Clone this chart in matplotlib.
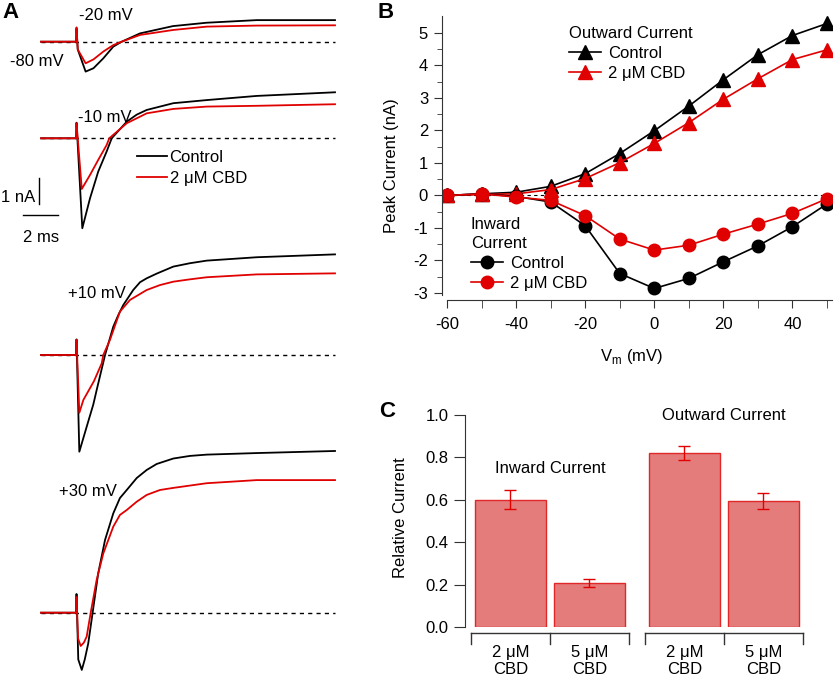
import numpy as np
import matplotlib.pyplot as plt

plt.rcParams['font.family'] = ['Liberation Sans', 'DejaVu Sans']
plt.rcParams['font.size'] = 12
plt.rcParams['axes.unicode_minus'] = False

W, H = 837, 680
RED = '#e00000'
DARK = '#333333'

# ---- panel A: current traces (time in ms, current in nA)
t_m20_ctrl = [-2, 0, 0.03, 0.1, 0.55, 1.0, 1.56, 2.13, 2.61, 3.66, 5.54, 7.47, 10.33, 14.8]
i_m20_ctrl = [0, 0, 0.5, -0.3, -1.15, -1.02, -0.64, -0.19, 0, 0.32, 0.6, 0.73, 0.83, 0.83]
t_m20_cbd = [-2, 0, 0.03, 0.1, 0.55, 1.0, 1.56, 2.13, 2.61, 3.66, 5.54, 7.47, 10.33, 14.8]
i_m20_cbd = [0, 0, 0.55, -0.3, -0.83, -0.68, -0.38, -0.13, 0, 0.26, 0.45, 0.58, 0.62, 0.63]

t_m10_ctrl = [-2, 0, 0.03, 0.36, 0.8, 1.27, 1.75, 2.04, 2.9, 3.47, 4.04, 5.56, 7.47, 10.33, 14.8]
i_m10_ctrl = [0, 0, 0.6, -3.46, -2.31, -1.28, -0.51, 0, 0.64, 0.91, 1.09, 1.35, 1.47, 1.63, 1.77]
t_m10_cbd = [-2, 0, 0.03, 0.33, 0.8, 1.27, 1.75, 1.9, 2.9, 4.04, 5.56, 7.47, 10.33, 14.8]
i_m10_cbd = [0, 0, 0.58, -1.95, -1.41, -0.83, -0.26, 0, 0.58, 0.96, 1.13, 1.22, 1.25, 1.31]

t_p10_ctrl = [-2, 0, 0.03, 0.19, 0.61, 0.99, 1.18, 1.66, 2.13, 2.42, 2.7, 3.27, 3.66, 4.04, 4.61,
              5.56, 6.51, 7.47, 8.8, 10.33, 14.8]
i_p10_ctrl = [0, 0, 0.6, -3.72, -2.76, -1.9, -1.35, 0, 1.09, 1.54, 1.92, 2.5, 2.8, 2.95, 3.13,
              3.4, 3.53, 3.63, 3.69, 3.76, 3.87]
t_p10_cbd = [-2, 0, 0.03, 0.19, 0.42, 1.03, 1.47, 1.56, 1.94, 2.51, 3.09, 4.04, 4.8, 5.56, 6.51,
             7.47, 10.33, 14.8]
i_p10_cbd = [0, 0, 0.58, -2.22, -1.73, -1.0, -0.32, 0, 0.58, 1.67, 2.12, 2.5, 2.69, 2.82, 2.91,
             2.99, 3.1, 3.14]

t_p30_ctrl = [-2, 0, 0.03, 0.13, 0.33, 0.5, 0.7, 0.95, 1.27, 1.66, 2.13, 2.51, 2.9, 3.47, 4.04,
              4.61, 5.56, 6.51, 7.47, 10.33, 14.8]
i_p30_ctrl = [0, 0, 0.72, -1.8, -2.2, -1.8, -1.18, 0, 1.52, 2.8, 3.82, 4.41, 4.72, 5.18, 5.49,
              5.72, 5.93, 6.03, 6.08, 6.14, 6.22]
t_p30_cbd = [-2, 0, 0.03, 0.12, 0.27, 0.45, 0.61, 0.84, 1.18, 1.56, 2.13, 2.51, 2.9, 3.47, 4.04,
             4.8, 5.56, 7.47, 10.33, 14.8]
i_p30_cbd = [0, 0, 0.6, -1.0, -1.28, -1.15, -0.92, 0, 1.26, 2.28, 3.31, 3.76, 3.95, 4.27, 4.53,
             4.72, 4.8, 4.98, 5.1, 5.1]

step_labels = ['-20 mV', '-10 mV', '+10 mV', '+30 mV']

# ---- panel B: I-V
vm = [-60, -50, -40, -30, -20, -10, 0, 10, 20, 30, 40, 50]
out_ctrl = [0, 0.05, 0.1, 0.28, 0.67, 1.29, 1.99, 2.75, 3.56, 4.33, 4.92, 5.29]
out_cbd = [0, 0.03, 0.05, 0.18, 0.52, 1.01, 1.6, 2.24, 2.96, 3.59, 4.18, 4.48]
in_ctrl = [0, 0.05, -0.03, -0.2, -0.93, -2.4, -2.86, -2.55, -2.04, -1.55, -0.96, -0.26]
in_cbd = [0, 0.05, -0.05, -0.15, -0.62, -1.34, -1.68, -1.53, -1.19, -0.88, -0.55, -0.1]

# ---- panel C: relative current
bar_labels = ['2 μM\nCBD', '5 μM\nCBD']
inward_rel = [0.60, 0.207]
inward_err = [0.045, 0.02]
outward_rel = [0.82, 0.595]
outward_err = [0.032, 0.038]


def fx(x):
    return x / W


def fy(y):
    return 1 - y / H


fig = plt.figure(figsize=(W / 100, H / 100), dpi=100)

# ================= A =================
MS_PX = 17.5   # px per ms
NA_PX = 26.0   # px per nA
T0_PX = 76     # x pixel of step onset
ax_a = fig.add_axes([0, 0, 340 / W, 1])
ax_a.set_xlim(-T0_PX / MS_PX, (340 - T0_PX) / MS_PX)
ax_a.set_ylim(0, H / NA_PX)
ax_a.axis('off')

base_px = [41.7, 138.3, 355, 612.7]
traces = [(t_m20_ctrl, i_m20_ctrl, t_m20_cbd, i_m20_cbd),
          (t_m10_ctrl, i_m10_ctrl, t_m10_cbd, i_m10_cbd),
          (t_p10_ctrl, i_p10_ctrl, t_p10_cbd, i_p10_cbd),
          (t_p30_ctrl, i_p30_ctrl, t_p30_cbd, i_p30_cbd)]
handles_a = None
for b, (tc, ic, tr, ir) in zip(base_px, traces):
    off = (H - b) / NA_PX
    ax_a.plot([tc[0], tc[-1]], [off, off], color='black', lw=1.0,
              dashes=(3, 3))
    l1, = ax_a.plot(tc, np.array(ic) + off, color='black', lw=1.3)
    l2, = ax_a.plot(tr, np.array(ir) + off, color=RED, lw=1.3)
    if handles_a is None:
        handles_a = [l1, l2]

# scale bars 1 nA / 2 ms
v0 = (H - 204) / NA_PX
ax_a.plot([-2.1, -2.1], [v0, v0 + 1], color='black', lw=1.0)
h0 = (H - 215) / NA_PX
ax_a.plot([-3.03, -3.03 + 2], [h0, h0], color='black', lw=1.0)
fig.text(fx(35), fy(197.7), '1 nA', ha='right', va='center')
fig.text(fx(41), fy(238), '2 ms', ha='center', va='center')

lab_pos = [(79, 15.7), (78, 117.7), (68, 294), (59, 492)]
for s, (x, y) in zip(step_labels, lab_pos):
    fig.text(fx(x), fy(y), s, ha='left', va='center')
fig.text(fx(10), fy(61), '-80 mV', ha='left', va='center')

leg_a = fig.legend(handles_a, ['Control', '2 μM CBD'], loc='center left',
                   bbox_to_anchor=(fx(137), fy(167.8)), frameon=False,
                   handlelength=1.8, handletextpad=0.15, labelspacing=0.35,
                   borderpad=0, borderaxespad=0)

# ================= B =================
ax_b = fig.add_axes([fx(442), fy(300), 390 / W, 284 / H])
ax_b.set_xlim(-61.45, 51.45)
ax_b.set_ylim(-3.215, 5.52)
ax_b.plot([vm[0], vm[-1]], [0, 0], color='black', lw=0.8, dashes=(3, 3))
lo1, = ax_b.plot(vm, out_ctrl, color='black', marker='^', ms=9.5, lw=1.2)
lo2, = ax_b.plot(vm, out_cbd, color=RED, marker='^', ms=9.5, lw=1.2)
li1, = ax_b.plot(vm, in_ctrl, color='black', marker='o', ms=9, lw=1.2)
li2, = ax_b.plot(vm, in_cbd, color=RED, marker='o', ms=9, lw=1.2)

for s in ['top', 'right']:
    ax_b.spines[s].set_visible(False)
ax_b.spines['left'].set_bounds(-3.05, 5.52)
ax_b.spines['bottom'].set_bounds(-60, 51.45)
for s in ['left', 'bottom']:
    ax_b.spines[s].set_color(DARK)
ax_b.set_xticks(np.arange(-60, 41, 20))
ax_b.set_xticks(np.arange(-50, 51, 20), minor=True)
ax_b.set_yticks(np.arange(-3, 6, 1))
ax_b.set_yticks(np.arange(-2.5, 5.1, 1), minor=True)
ax_b.tick_params(axis='x', which='both', length=6, color=DARK, pad=6)
ax_b.tick_params(axis='y', which='major', length=6, color=DARK, pad=4)
ax_b.tick_params(axis='y', which='minor', length=3.5, color=DARK)
ax_b.set_ylabel('Peak Current (nA)')
ax_b.yaxis.set_label_coords(-0.11, 0.472)
ax_b.set_xlabel('V$_\\mathregular{m}$ (mV)')
ax_b.xaxis.set_label_coords(0.487, -0.165)

leg_out = ax_b.legend([lo1, lo2], ['Control', '2 μM CBD'], title='Outward Current',
                      loc='upper left', bbox_to_anchor=(fx(569), fy(26)),
                      bbox_transform=fig.transFigure, frameon=False,
                      handlelength=1.9, handletextpad=0.45, labelspacing=0.3,
                      borderpad=0, borderaxespad=0, alignment='left',
                      title_fontsize=12)
ax_b.add_artist(leg_out)
leg_in = ax_b.legend([li1, li2], ['Control', '2 μM CBD'], title='Inward\nCurrent',
                     loc='upper left', bbox_to_anchor=(fx(471), fy(217)),
                     bbox_transform=fig.transFigure, frameon=False,
                     handlelength=1.9, handletextpad=0.45, labelspacing=0.3,
                     borderpad=0, borderaxespad=0, alignment='left',
                     title_fontsize=12)
leg_in.get_title().set_linespacing(1.35)

# ================= C =================
ax_c = fig.add_axes([fx(465), fy(627), 345 / W, 212 / H])
pos_in = np.arange(2)
pos_out = np.arange(2) + 2.2
bar_kw = dict(width=0.9, color='#e57c7c', edgecolor='#e02828', linewidth=1.0,
              error_kw=dict(ecolor=RED, elinewidth=1.0, capsize=4.5, capthick=1.0))
ax_c.bar(pos_in, inward_rel, yerr=inward_err, **bar_kw)
ax_c.bar(pos_out, outward_rel, yerr=outward_err, **bar_kw)
ax_c.set_xlim(-0.575, 3.79)
ax_c.set_ylim(0, 1)
for s in ['top', 'right', 'bottom']:
    ax_c.spines[s].set_visible(False)
ax_c.spines['left'].set_color(DARK)
ax_c.set_yticks(np.arange(0, 1.01, 0.2))
ax_c.set_yticklabels(['%.1f' % v for v in np.arange(0, 1.01, 0.2)])
ax_c.tick_params(axis='y', length=8, color=DARK, pad=4)
ax_c.set_xticks(np.concatenate([pos_in, pos_out]), bar_labels * 2)
ax_c.tick_params(axis='x', length=0, pad=13)
ax_c.set_ylabel('Relative Current')
ax_c.yaxis.set_label_coords(-0.165, 0.514)

# group brackets under the bars
tr = ax_c.get_xaxis_transform()
for p in (pos_in, pos_out):
    edges = [p[0] - 0.5, (p[0] + p[1]) / 2, p[1] + 0.5]
    ax_c.plot([edges[0], edges[-1]], [-0.028, -0.028], color=DARK, lw=1.0,
              transform=tr, clip_on=False)
    for e in edges:
        ax_c.plot([e, e], [-0.028, -0.08], color=DARK, lw=1.0,
                  transform=tr, clip_on=False)

ax_c.text(pos_in.mean(), 0.75, 'Inward Current', ha='center', va='center')
ax_c.text(pos_out.mean(), 1.0, 'Outward Current', ha='center', va='center')

# panel letters
fig.text(fx(2), fy(13), 'A', fontsize=16, fontweight='bold', ha='left', va='center')
fig.text(fx(378), fy(13), 'B', fontsize=16, fontweight='bold', ha='left', va='center')
fig.text(fx(379), fy(412), 'C', fontsize=16, fontweight='bold', ha='left', va='center')

fig.savefig('out.png', dpi=100)
